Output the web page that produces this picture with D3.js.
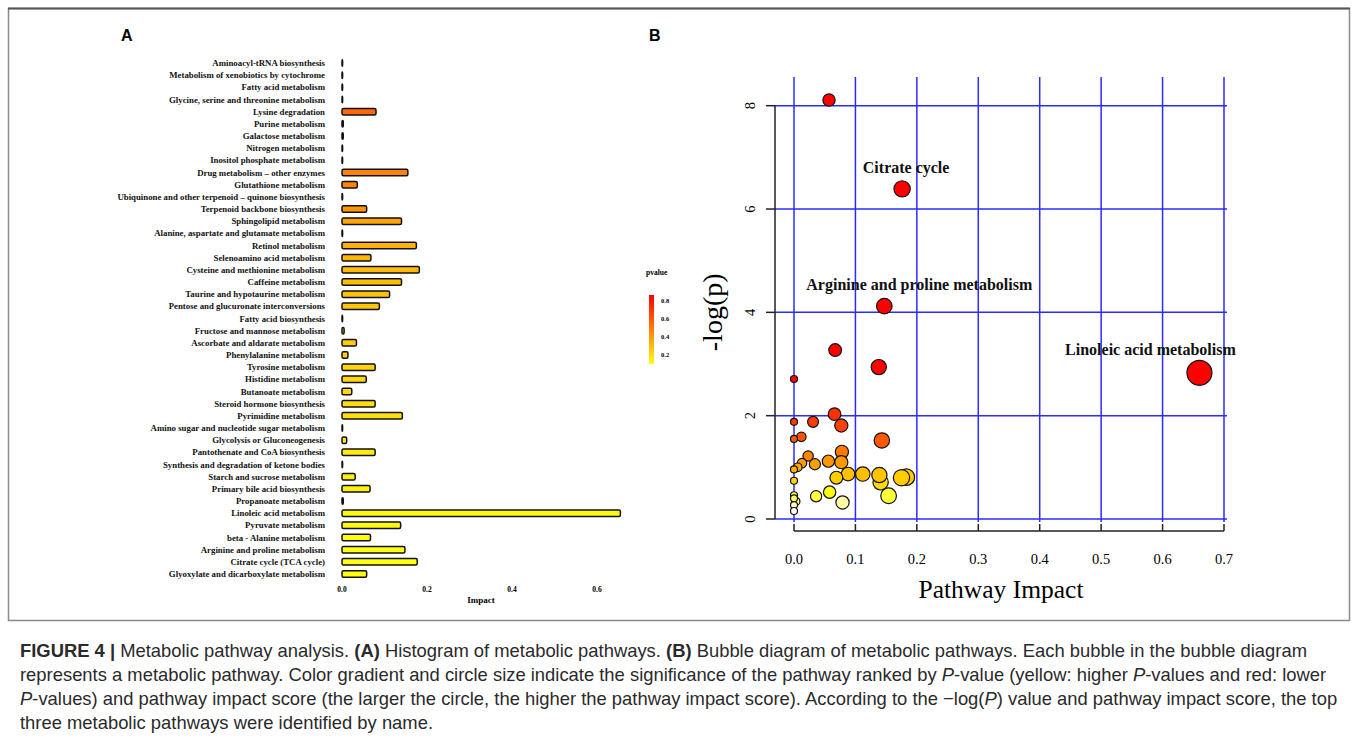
<!DOCTYPE html>
<html>
<head>
<meta charset="utf-8">
<script src="https://cdn.jsdelivr.net/npm/d3@7/dist/d3.min.js"></script>
<style>
  body { margin: 0; background: #fff; }
  svg { display: block; }
</style>
</head>
<body>
<div id="chart"></div>
<script>
// Panel A: pathway impact histogram
const pathways = [
  'Aminoacyl-tRNA biosynthesis', 'Metabolism of xenobiotics by cytochrome', 'Fatty acid metabolism',
  'Glycine, serine and threonine metabolism', 'Lysine degradation', 'Purine metabolism',
  'Galactose metabolism', 'Nitrogen metabolism', 'Inositol phosphate metabolism',
  'Drug metabolism \u2013 other enzymes', 'Glutathione metabolism',
  'Ubiquinone and other terpenoid \u2013 quinone biosynthesis', 'Terpenoid backbone biosynthesis',
  'Sphingolipid metabolism', 'Alanine, aspartate and glutamate metabolism', 'Retinol metabolism',
  'Selenoamino acid metabolism', 'Cysteine and methionine metabolism', 'Caffeine metabolism',
  'Taurine and hypotaurine metabolism', 'Pentose and glucuronate interconversions',
  'Fatty acid biosynthesis', 'Fructose and mannose metabolism', 'Ascorbate and aldarate metabolism',
  'Phenylalanine metabolism', 'Tyrosine metabolism', 'Histidine metabolism', 'Butanoate metabolism',
  'Steroid hormone biosynthesis', 'Pyrimidine metabolism', 'Amino sugar and nucleotide sugar metabolism',
  'Glycolysis or Gluconeogenesis', 'Pantothenate and CoA biosynthesis',
  'Synthesis and degradation of ketone bodies', 'Starch and sucrose metabolism',
  'Primary bile acid biosynthesis', 'Propanoate metabolism', 'Linoleic acid metabolism',
  'Pyruvate metabolism', 'beta - Alanine metabolism', 'Arginine and proline metabolism',
  'Citrate cycle (TCA cycle)', 'Glyoxylate and dicarboxylate metabolism'
];
const impact = [
  0, 0, 0, 0, 0.080, 0.003, 0.003, 0, 0, 0.155, 0.036, 0, 0.058, 0.140, 0, 0.175, 0.068, 0.182,
  0.140, 0.112, 0.088, 0, 0.005, 0.034, 0.014, 0.078, 0.057, 0.023, 0.078, 0.142, 0, 0.011, 0.078,
  0, 0.031, 0.066, 0.003, 0.655, 0.138, 0.067, 0.148, 0.177, 0.058
];
const pvalue = [
  0.85, 0.80, 0.75, 0.70, 0.55, 0.53, 0.52, 0.50, 0.49, 0.47, 0.46, 0.44, 0.41, 0.37, 0.35, 0.33,
  0.32, 0.30, 0.29, 0.28, 0.27, 0.26, 0.255, 0.25, 0.24, 0.23, 0.22, 0.215, 0.20, 0.19, 0.18, 0.17,
  0.16, 0.155, 0.15, 0.14, 0.13, 0.12, 0.115, 0.11, 0.105, 0.10, 0.10
];
const impactTicks = [0.0, 0.2, 0.4, 0.6];
const legendTicks = [0.2, 0.4, 0.6, 0.8];

// Panel B: bubble diagram
const bubbleImpact = [
  0.057, 0.176, 0.147, 0.660, 0.067, 0.138, 0.000, 0.066, 0.000, 0.031, 0.077, 0.000, 0.012,
  0.143, 0.078, 0.023, 0.013, 0.006, 0.000, 0.034, 0.056, 0.077, 0.088, 0.069, 0.112, 0.139,
  0.141, 0.175, 0.183, 0.000, 0.154, 0.058, 0.036, 0.079, 0.000, 0.000, 0.003, 0.000, 0.000
];
const bubbleLogP = [
  8.11, 6.39, 4.12, 2.83, 3.27, 2.94, 2.71, 2.03, 1.88, 1.88, 1.81, 1.55, 1.59,
  1.52, 1.30, 1.22, 1.08, 1.00, 0.96, 1.06, 1.12, 1.10, 0.87, 0.80, 0.87, 0.85,
  0.71, 0.80, 0.81, 0.74, 0.45, 0.52, 0.44, 0.32, 0.46, 0.40, 0.34, 0.27, 0.155
];
const bubbleXTicks = [0.0, 0.1, 0.2, 0.3, 0.4, 0.5, 0.6, 0.7];
const bubbleYTicks = [0, 2, 4, 6, 8];
const topPathways = [
  { name: 'Citrate  cycle', impact: 0.176, logp: 6.39, dx: 4, dy: -16 },
  { name: 'Arginine and proline metabolism', impact: 0.147, logp: 4.12, dx: 35, dy: -16 },
  { name: 'Linoleic acid metabolism', impact: 0.660, logp: 2.83, dx: -49, dy: -18 }
];

const W = 1358, H = 748;
const serif = '"Liberation Serif", "Times New Roman", serif';
const sans = '"Liberation Sans", Arial, sans-serif';

const svg = d3.select('#chart').append('svg')
  .attr('width', W).attr('height', H)
  .attr('viewBox', `0 0 ${W} ${H}`);

// figure frame
svg.append('rect')
  .attr('x', 8.5).attr('y', 8.5).attr('width', 1341).attr('height', 612)
  .attr('fill', 'none').attr('stroke', '#8a8a8a').attr('stroke-width', 1.5);
svg.append('line').attr('x1', 8).attr('x2', 1350).attr('y1', 8.5).attr('y2', 8.5)
  .attr('stroke', '#555').attr('stroke-width', 2);

svg.append('text').attr('x', 121).attr('y', 41).text('A')
  .style('font-family', sans).style('font-weight', 'bold').style('font-size', '16px');
svg.append('text').attr('x', 649).attr('y', 41).text('B')
  .style('font-family', sans).style('font-weight', 'bold').style('font-size', '16px');

// ---------- Panel A ----------
const rows = pathways.map((name, i) => ({ name, v: impact[i], p: pvalue[i] }));
const xA = d3.scaleLinear().domain([0, 0.6]).range([342, 597]);
const yA = d3.scalePoint().domain(pathways).range([63, 574]);
const pColor = d3.scaleLinear().domain([0.1, 0.85]).range(['#ffff10', '#ff0000']);
const barH = 6.5;

const gA = svg.append('g');
gA.selectAll('text.lab').data(rows).enter().append('text')
  .attr('class', 'lab')
  .attr('x', 325)
  .attr('y', (d) => yA(d.name))
  .attr('dy', '0.35em')
  .attr('text-anchor', 'end')
  .style('font-family', serif).style('font-weight', 'bold').style('font-size', '8.8px')
  .attr('fill', '#111')
  .text((d) => d.name);

gA.selectAll('rect.bar').data(rows).enter().append('rect')
  .attr('class', 'bar')
  .attr('x', xA(0))
  .attr('y', (d) => yA(d.name) - barH / 2)
  .attr('width', (d) => Math.max(xA(d.v) - xA(0), 0.6))
  .attr('height', barH)
  .attr('rx', 1.5)
  .attr('fill', (d) => pColor(d.p))
  .attr('stroke', '#111')
  .attr('stroke-width', 1.5);

gA.selectAll('text.tick').data(impactTicks).enter().append('text')
  .attr('x', (d) => xA(d)).attr('y', 592)
  .attr('text-anchor', 'middle')
  .style('font-family', serif).style('font-weight', 'bold').style('font-size', '7.5px')
  .text((d) => d.toFixed(1));
gA.append('text').attr('x', 481).attr('y', 603).attr('text-anchor', 'middle')
  .style('font-family', serif).style('font-weight', 'bold').style('font-size', '9px')
  .text('Impact');

// p-value legend
const defs = svg.append('defs');
const lg = defs.append('linearGradient').attr('id', 'pgrad')
  .attr('x1', 0).attr('x2', 0).attr('y1', 1).attr('y2', 0);
d3.range(0, 1.01, 0.25).forEach((t) => {
  lg.append('stop').attr('offset', t).attr('stop-color', pColor(0.1 + t * 0.75));
});
const yLeg = d3.scaleLinear().domain([0.1, 0.86]).range([364, 295]);
svg.append('rect').attr('x', 649).attr('y', yLeg(0.86)).attr('width', 5)
  .attr('height', yLeg(0.1) - yLeg(0.86)).attr('fill', 'url(#pgrad)');
svg.append('text').attr('x', 646).attr('y', 275).text('pvalue')
  .style('font-family', serif).style('font-weight', 'bold').style('font-size', '7.5px');
svg.selectAll('text.leg').data(legendTicks).enter().append('text')
  .attr('class', 'leg')
  .attr('x', 661).attr('y', (d) => yLeg(d)).attr('dy', '0.35em')
  .style('font-family', serif).style('font-weight', 'bold').style('font-size', '6.5px')
  .text((d) => d.toFixed(1));

// ---------- Panel B ----------
const xB = d3.scaleLinear().domain([0, 0.7]).range([794, 1224]);
const yB = d3.scaleLinear().domain([0, 8]).range([519, 105.7]);
const rB = d3.scaleSqrt().domain([0, 0.66]).range([3.5, 12.5]);
const heat = d3.scaleLinear()
  .domain([0.15, 0.32, 0.5, 0.8, 1.1, 1.5, 2.0, 2.7])
  .range(['#ffffff', '#ffffa8', '#ffff10', '#ffcc00', '#ff9900', '#ff5a00', '#ff3300', '#ff0000'])
  .clamp(true);
const blue = '#2b2bff';
const gB = svg.append('g');

gB.selectAll('line.vg').data(bubbleXTicks).enter().append('line')
  .attr('x1', (d) => xB(d)).attr('x2', (d) => xB(d))
  .attr('y1', 77).attr('y2', 522)
  .attr('stroke', blue).attr('stroke-width', 1.5);
gB.selectAll('line.hg').data(bubbleYTicks).enter().append('line')
  .attr('x1', 775).attr('x2', 1227)
  .attr('y1', (d) => yB(d)).attr('y2', (d) => yB(d))
  .attr('stroke', blue).attr('stroke-width', 1.5);

// y axis
gB.append('line').attr('x1', 775).attr('x2', 775).attr('y1', yB(0)).attr('y2', yB(8))
  .attr('stroke', '#222').attr('stroke-width', 1.5);
gB.selectAll('line.yt').data(bubbleYTicks).enter().append('line')
  .attr('x1', 766).attr('x2', 775).attr('y1', (d) => yB(d)).attr('y2', (d) => yB(d))
  .attr('stroke', '#222').attr('stroke-width', 1.5);
gB.selectAll('text.yt').data(bubbleYTicks).enter().append('text')
  .attr('transform', (d) => `translate(755,${yB(d)}) rotate(-90)`)
  .attr('text-anchor', 'middle')
  .style('font-family', serif).style('font-size', '14.5px')
  .text((d) => d);
gB.append('text')
  .attr('transform', `translate(722,${yB(4)}) rotate(-90)`)
  .attr('text-anchor', 'middle')
  .style('font-family', serif).style('font-size', '28px')
  .text('-log(p)');

// x axis
gB.append('line').attr('x1', xB(0)).attr('x2', xB(0.7)).attr('y1', 531).attr('y2', 531)
  .attr('stroke', '#222').attr('stroke-width', 1.5);
gB.selectAll('line.xt').data(bubbleXTicks).enter().append('line')
  .attr('x1', (d) => xB(d)).attr('x2', (d) => xB(d)).attr('y1', 524).attr('y2', 531)
  .attr('stroke', '#222').attr('stroke-width', 1.5);
gB.selectAll('text.xt').data(bubbleXTicks).enter().append('text')
  .attr('x', (d) => xB(d)).attr('y', 564)
  .attr('text-anchor', 'middle')
  .style('font-family', serif).style('font-size', '14.5px')
  .text((d) => d.toFixed(1));
gB.append('text').attr('x', 1001).attr('y', 598).attr('text-anchor', 'middle')
  .style('font-family', serif).style('font-size', '25.5px')
  .text('Pathway Impact');

// bubbles
const bubbles = bubbleImpact.map((v, i) => ({ v, lp: bubbleLogP[i] }))
  .sort((a, b) => rB(b.v) - rB(a.v));
gB.selectAll('circle').data(bubbles).enter().append('circle')
  .attr('cx', (d) => xB(d.v)).attr('cy', (d) => yB(d.lp))
  .attr('r', (d) => rB(d.v))
  .attr('fill', (d) => heat(d.lp))
  .attr('stroke', '#111').attr('stroke-width', 1.2);

gB.selectAll('text.ann').data(topPathways).enter().append('text')
  .attr('x', (d) => xB(d.impact) + d.dx).attr('y', (d) => yB(d.logp) + d.dy)
  .attr('text-anchor', 'middle')
  .style('font-family', serif).style('font-weight', 'bold').style('font-size', '16px')
  .attr('fill', '#111')
  .text((d) => d.name);

// ---------- caption ----------
const caption = [
  [['b', 'FIGURE 4 | '], ['', 'Metabolic pathway analysis. '], ['b', '(A)'], ['', ' Histogram of metabolic pathways. '], ['b', '(B)'], ['', ' Bubble diagram of metabolic pathways. Each bubble in the bubble diagram']],
  [['', 'represents a metabolic pathway. Color gradient and circle size indicate the significance of the pathway ranked by '], ['i', 'P'], ['', '-value (yellow: higher '], ['i', 'P'], ['', '-values and red: lower']],
  [['i', 'P'], ['', '-values) and pathway impact score (the larger the circle, the higher the pathway impact score). According to the \u2212log('], ['i', 'P'], ['', ') value and pathway impact score, the top']],
  [['', 'three metabolic pathways were identified by name.']]
];
const capG = svg.append('g')
  .style('font-family', sans).style('font-size', '18.4px').attr('fill', '#2a2a2a');
caption.forEach((parts, i) => {
  const t = capG.append('text').attr('x', 20).attr('y', 657 + i * 24);
  parts.forEach(([s, str]) => {
    const ts = t.append('tspan').text(str);
    if (s === 'b') ts.style('font-weight', 'bold');
    if (s === 'i') ts.style('font-style', 'italic');
  });
});
</script>
</body>
</html>
